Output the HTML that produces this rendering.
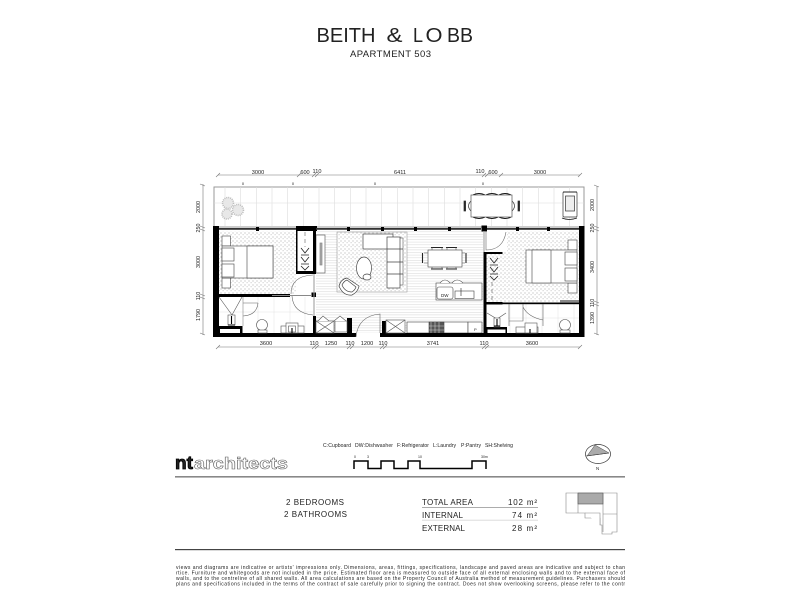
<!DOCTYPE html>
<html><head><meta charset="utf-8"><style>
html,body{margin:0;padding:0;background:#fff}
svg{display:block;filter:blur(.35px)}
text{font-family:"Liberation Sans",sans-serif;fill:#222}
</style></head><body>
<svg width="800" height="600" viewBox="0 0 800 600" xmlns="http://www.w3.org/2000/svg">
<defs>
<pattern id="dots" width="4" height="4" patternUnits="userSpaceOnUse"><rect x=".5" y=".5" width="1" height="1" fill="#a8a8a8"/><rect x="2.6" y="2.2" width="1" height="1" fill="#c0c0c0"/></pattern>
<pattern id="boards" width="4" height="2.6" patternUnits="userSpaceOnUse"><rect width="4" height=".6" fill="#dcdcdc"/></pattern>
<clipPath id="legal"><rect x="175" y="560" width="450" height="30"/></clipPath>
</defs>
<rect width="800" height="600" fill="#fff"/>

<g font-size="20" fill="#1a1a1a">
<text x="316.5" y="42" textLength="59" lengthAdjust="spacingAndGlyphs">BEITH</text>
<text x="386.5" y="42" textLength="16" lengthAdjust="spacingAndGlyphs">&amp;</text>
<text x="413" y="42" textLength="10" lengthAdjust="spacingAndGlyphs">L</text>
<text x="425.5" y="42" textLength="17" lengthAdjust="spacingAndGlyphs">O</text>
<text x="447" y="42" textLength="26" lengthAdjust="spacingAndGlyphs">BB</text>
</g>
<text x="350" y="57" font-size="9.5" textLength="81" lengthAdjust="spacing">APARTMENT 503</text>

<!-- Dimensions -->
<g stroke="#777" stroke-width=".6" fill="none">
<path d="M218 175H580M218 347H580M597 186V335M203 184V335"/>
<path d="M216 177l4-4M297 177l4-4M312 177l4-4M315 177l4-4M482 177l4-4M485 177l4-4M499 177l4-4M578 177l4-4"/>
<path d="M216 349l4-4M312 349l4-4M315 349l4-4M347 349l4-4M350 349l4-4M380 349l4-4M383 349l4-4M482 349l4-4M485 349l4-4M578 349l4-4"/>
<path d="M594 185l5 2M594 226l5 2M594 229l5 2M594 301l5 2M594 304l5 2M594 333l5 2"/>
<path d="M200 184l5 2M200 226l5 2M200 229l5 2M200 294l5 2M200 297l5 2M200 333l5 2"/>
</g>
<g font-size="5.6" text-anchor="middle" fill="#333">
<text x="258" y="174">3000</text><text x="305" y="174">600</text><text x="317" y="173">110</text><text x="400" y="174">6411</text><text x="480" y="173">110</text><text x="493" y="174">600</text><text x="540" y="174">3000</text>
<text x="243" y="185" font-size="4" fill="#888">0</text><text x="293" y="185" font-size="4" fill="#888">0</text><text x="375" y="185" font-size="4" fill="#888">0</text><text x="483" y="185" font-size="4" fill="#888">0</text>
<text x="266" y="345">3600</text><text x="314" y="345">110</text><text x="331" y="345">1250</text><text x="350" y="345">110</text><text x="367" y="345">1200</text><text x="383" y="345">110</text><text x="433" y="345">3741</text><text x="484" y="345">110</text><text x="532" y="345">3600</text>
</g>
<g font-size="5.4" text-anchor="middle" fill="#333">
<text transform="translate(200,207) rotate(-90)">2000</text><text transform="translate(200,228) rotate(-90)">250</text><text transform="translate(200,262) rotate(-90)">3000</text><text transform="translate(200,296) rotate(-90)">110</text><text transform="translate(200,315) rotate(-90)">1790</text>
<text transform="translate(594,205) rotate(-90)">2000</text><text transform="translate(594,228) rotate(-90)">250</text><text transform="translate(594,267) rotate(-90)">3400</text><text transform="translate(594,303) rotate(-90)">110</text><text transform="translate(594,318) rotate(-90)">1390</text>
</g>

<!-- Balcony -->
<rect x="214" y="187" width="370" height="40" fill="#fff" stroke="#999" stroke-width="1"/>
<g stroke="#ddd" stroke-width=".6">
<path d="M225 187V226M240.7 187V226M256.3 187V226M272 187V226M287.7 187V226M303.3 187V226M319 187V226M334.7 187V226M350.3 187V226M366 187V226M381.7 187V226M397.3 187V226M413 187V226M428.7 187V226M444.3 187V226M460 187V226M475.7 187V226M491.3 187V226M507 187V226M522.7 187V226M538.3 187V226M554 187V226M569.7 187V226"/>
<path d="M214 203H584"/>
</g>
<g fill="#e8e8e8" stroke="#bbb" stroke-width="1.5" stroke-dasharray="1 1">
<circle cx="228" cy="203" r="5.5"/><circle cx="238" cy="210" r="5.5"/><circle cx="227" cy="214" r="5"/>
</g>
<!-- outdoor dining -->
<g fill="#fff" stroke="#333" stroke-width=".7">
<path d="M473 195q6-3 12 0M486 195q6-3 12 0M499 195q6-3 12 0" fill="#fff" stroke="#111" stroke-width="1"/>
<path d="M473 217q6 3 12 0M486 217q6 3 12 0M499 217q6 3 12 0" fill="#fff" stroke="#111" stroke-width="1"/>
<path d="M471 201q-5 5 0 10M512 201q5 5 0 10" fill="#fff"/>
<rect x="471" y="195" width="41" height="22" stroke="#555"/>
<rect x="464" y="201" width="1.6" height="10" fill="#222"/><rect x="518" y="201" width="1.6" height="10" fill="#222"/>
<rect x="563" y="192" width="14" height="25" rx="1"/>
<rect x="565.5" y="196" width="9" height="15" fill="#eee"/>
<path d="M562 218q7 3 15 0M563 192h14" fill="none" stroke="#111"/>
</g>

<!-- Floors -->
<rect x="316" y="231" width="167" height="102" fill="url(#boards)"/>
<rect x="219" y="231" width="77" height="63" fill="url(#dots)"/>
<rect x="486" y="231" width="93" height="71" fill="url(#dots)"/>
<rect x="486" y="231" width="21" height="21" fill="#fff"/>
<rect x="337" y="232" width="70" height="60" fill="#fff" stroke="#999" stroke-width=".6"/>
<rect x="337" y="232" width="70" height="60" fill="url(#dots)"/>
<!-- bathroom tile lines -->
<g stroke="#e2e2e2" stroke-width=".5">
<path d="M258 297V333M274 297V333M290 297V333M305 297V333M219 312H313"/>
<path d="M510 304V333M526 304V333M542 304V333M558 304V333M574 304V333M508 318H579"/>
</g>

<!-- Left bed -->
<g fill="#fff" stroke="#444" stroke-width=".6">
<rect x="222" y="236" width="8.5" height="10"/><rect x="222" y="278" width="8.5" height="10"/>
<rect x="222" y="246" width="51" height="32"/><rect x="247" y="246" width="26" height="32"/>
<rect x="222" y="248" width="12" height="13"/><rect x="222" y="264" width="12" height="13"/>
</g>
<!-- Right bed -->
<g fill="#fff" stroke="#444" stroke-width=".6">
<rect x="568" y="240" width="9" height="10"/><rect x="568" y="283" width="9" height="10"/>
<rect x="526" y="250" width="51" height="33"/><rect x="532" y="250" width="19" height="33"/>
<rect x="565" y="252" width="12" height="13"/><rect x="565" y="268" width="12" height="13"/>
</g>

<!-- Sofa, ottoman, armchair -->
<g fill="#fff" stroke="#444" stroke-width=".7">
<rect x="363" y="234" width="30" height="15"/>
<path d="M400 238h3v47h-3" stroke="#777"/>
<rect x="387" y="237" width="13" height="51"/>
<path d="M387 249H403M387 262H403M387 274H403"/>
<ellipse cx="364" cy="268" rx="7.5" ry="11"/><ellipse cx="367" cy="277" rx="4" ry="3"/>
<path d="M339 286q2-7 8-8l12 8q-1 6-7 9q-9 1-13-9z"/>
<path d="M342 285q2-4 5-5l9 7q-1 3-4 5q-7 0-10-7z" fill="#fff"/>
<rect x="316" y="235" width="9" height="38" stroke="#666"/>
<rect x="320" y="243" width="2" height="22" fill="#aaa" stroke="#888"/>
</g>

<!-- Dining -->
<g fill="#fff" stroke="#444" stroke-width=".6">
<rect x="428" y="250" width="34" height="17"/>
<path d="M431 247.5h12M446 247.5h11M431 269h12M446 269h11M422.5 253v10M466 253v10" stroke-width="1.1" stroke="#222"/>
<path d="M424 253h4M424 263h4M462 253h3M462 263h3M432 247.5v2.5M442 247.5v2.5M447 247.5v2.5M456 247.5v2.5M432 267v2M442 267v2M447 267v2M456 267v2" stroke="#555"/>
<rect x="436" y="283" width="46" height="17"/>
<rect x="437" y="287" width="16" height="12" rx="2"/>
<rect x="455" y="291" width="19" height="7.5"/>
<path d="M461 288v8" stroke="#222"/>
<path d="M440 283q5-6 10 0M452 283q5-6 11 0"/>
<rect x="407" y="322" width="61" height="11"/>
<rect x="429" y="322" width="15" height="11" fill="#555"/>
<rect x="468" y="322" width="14" height="11"/>
</g>
<path d="M431 322v11M435 322v11M439 322v11M429 326h15M429 330h15" stroke="#ccc" stroke-width=".6"/>
<text x="441" y="297" font-size="4.5" fill="#333">DW</text>
<text x="474" y="331" font-size="4" fill="#333">P</text>

<!-- Wardrobes -->
<g stroke="#222" fill="none" stroke-width=".8">
<path d="M305 232V247" stroke="#888" stroke-dasharray="4 3"/>
<path d="M301 248l4 5l4-5M301 255h8M301 257l4 5l4-5M301 264h8M301 266l4 4l4-4"/>
<path d="M492 282V301" stroke="#888" stroke-dasharray="4 3"/>
<path d="M490 258l4 5l4-5M490 265h8M490 267l4 5l4-5M490 274h8M490 276l4 4l4-4"/>
</g>

<!-- Walls -->
<g fill="#000">
<rect x="213" y="226" width="6" height="111"/>
<rect x="213" y="333" width="143" height="4"/>
<rect x="380" y="333" width="204" height="4"/>
<rect x="579" y="226" width="5.5" height="111"/>
<rect x="296" y="226" width="21" height="5"/>
<rect x="313" y="226" width="3" height="48"/>
<rect x="296" y="271" width="20" height="3"/>
<rect x="296" y="231" width="1.5" height="40"/>
<rect x="219" y="294" width="71" height="3"/>
<rect x="311.5" y="292.5" width="4.5" height="4.5"/>
<rect x="313" y="316" width="3" height="18"/>
<rect x="347" y="318" width="5" height="16"/>
<rect x="382" y="321" width="4" height="13"/>
<rect x="481.5" y="225.5" width="5.5" height="6"/>
<rect x="483.5" y="252" width="3" height="81"/>
<rect x="483.5" y="252" width="19" height="2"/>
<rect x="483.5" y="302" width="19" height="2.5"/>
<rect x="502" y="302.5" width="77" height="1.7"/>
<rect x="219" y="326" width="23.5" height="8"/>
<rect x="486" y="327" width="21" height="7"/>
</g>
<rect x="220" y="329" width="20" height="4" fill="#fff"/>
<rect x="487.5" y="329.5" width="18" height="3.5" fill="#fff"/>
<rect x="560" y="300" width="19" height="2.7" fill="#888"/>
<rect x="483.5" y="231" width="1" height="21" fill="#999"/>
<rect x="313.5" y="274" width="1" height="42" fill="#999"/>
<!-- windows -->
<g fill="#333">
<rect x="219" y="228" width="77" height="1.8"/><rect x="316" y="228" width="165" height="1.8"/><rect x="487" y="228" width="92" height="1.8"/>
</g>
<g fill="#000"><rect x="256" y="227" width="3" height="4"/><rect x="347" y="227" width="3" height="4"/><rect x="381" y="227" width="3" height="4"/><rect x="414" y="227" width="3" height="4"/><rect x="448" y="227" width="3" height="4"/><rect x="516" y="227" width="3" height="4"/><rect x="547" y="227" width="3" height="4"/></g>
<rect x="272" y="295" width="40" height="1" fill="#888"/>

<!-- Doors -->
<g fill="none" stroke="#666" stroke-width=".6">
<path d="M291 294q0-18 22-19M292 296q1 17 21 19"/>
<path d="M356 337q2-21 24-23V333"/>
<path d="M486 232v18q17 0 20-18"/>
<path d="M243 303h15M258 303q-1 12-15 13"/>
<path d="M243 297V326" stroke="#888"/>
<path d="M509 304V326M509 321h14V304M523 307q5 10 20 13M543 304V326"/>
</g>

<!-- Bath fixtures -->
<g fill="#fff" stroke="#555" stroke-width=".6">
<path d="M219 297l13 18l10-18" fill="none"/>
<rect x="228" y="315" width="7" height="10"/>
<path d="M487 313l10 6l9-6" fill="none"/>
<rect x="494" y="318" width="6" height="9"/>
<circle cx="262" cy="325" r="5.5"/><rect x="258" y="330" width="9" height="3"/>
<rect x="281" y="326" width="23" height="7"/><rect x="286" y="323" width="12" height="10"/><rect x="288.5" y="326" width="7" height="6"/>
<circle cx="565" cy="325" r="5.5"/><rect x="560" y="330" width="10" height="3"/>
<rect x="516" y="327" width="22" height="6"/><rect x="525" y="323" width="12" height="10"/>
<rect x="316" y="321" width="18" height="12"/><path d="M316 321l18 12M334 321l-18 12M318 321l5-5l6 5"/>
<rect x="335" y="321" width="12" height="11"/><path d="M334 321l6-5l6 5"/>
<rect x="386" y="320" width="19" height="13"/><path d="M386 320l19 13M405 320l-19 13"/>
</g>
<path d="M231.5 316v8M228 325h7M497 319v7M494 326h6M530 329v4M292 328v5" stroke="#000" stroke-width="1.1"/>

<!-- Legend -->
<g font-size="5.1" fill="#333">
<text x="323" y="447" textLength="28" lengthAdjust="spacing">C:Cupboard</text>
<text x="355" y="447" textLength="38" lengthAdjust="spacing">DW:Dishwasher</text>
<text x="397" y="447" textLength="32" lengthAdjust="spacing">F:Refrigerator</text>
<text x="433" y="447" textLength="23" lengthAdjust="spacing">L:Laundry</text>
<text x="461" y="447" textLength="20" lengthAdjust="spacing">P:Pantry</text>
<text x="485" y="447" textLength="28" lengthAdjust="spacing">SH:Shelving</text>
</g>
<text x="175" y="469" font-size="18" font-weight="bold" textLength="18" lengthAdjust="spacingAndGlyphs" fill="#000" stroke="#000" stroke-width=".8">nt</text>
<text x="194" y="469" font-size="17" font-weight="bold" textLength="94" lengthAdjust="spacingAndGlyphs" style="fill:#fff" stroke="#666" stroke-width=".6">architects</text>
<path d="M354 469V461H368V468.5H381V461H394V468.5H408V461H420V468.5H472V461H486V469" fill="none" stroke="#000" stroke-width="1.5"/>
<g font-size="3.5" fill="#666"><text x="354" y="458">0</text><text x="367" y="458">3</text><text x="418" y="458">10</text><text x="481" y="458">30m</text></g>
<ellipse cx="598" cy="454" rx="12.5" ry="9.5" fill="#fff" stroke="#333" stroke-width=".7"/>
<path d="M595 445L609 453L587 456Z" fill="#aaa" stroke="#444" stroke-width=".5"/>
<path d="M586 456L609 453" stroke="#333" stroke-width=".5"/>
<text x="596" y="470" font-size="4.5" fill="#444">N</text>
<rect x="175" y="476" width="450" height="1.6" fill="#888"/>

<text x="286" y="505" font-size="8" textLength="58" lengthAdjust="spacing" fill="#333">2 BEDROOMS</text>
<text x="284" y="517" font-size="8" textLength="63" lengthAdjust="spacing" fill="#333">2 BATHROOMS</text>
<g font-size="8" fill="#333">
<text x="422" y="505" textLength="51" lengthAdjust="spacing">TOTAL AREA</text>
<text x="422" y="518" textLength="41" lengthAdjust="spacing">INTERNAL</text>
<text x="422" y="531" textLength="43" lengthAdjust="spacing">EXTERNAL</text>
<text x="508" y="505" textLength="29" lengthAdjust="spacing">102 m²</text>
<text x="512" y="518" textLength="25" lengthAdjust="spacing">74 m²</text>
<text x="512" y="531" textLength="25" lengthAdjust="spacing">28 m²</text>
</g>
<rect x="422" y="507" width="116" height=".7" fill="#888"/>
<rect x="422" y="519.8" width="116" height=".7" fill="#ccc"/>

<!-- Key plan -->
<g fill="#fff" stroke="#888" stroke-width=".6">
<path d="M566 493H617V532H612V534H602V525H600V518H585V513H566Z"/>
<path d="M578 493V513M603 493V532M603 514H617M585 513H600V525"/>
</g>
<rect x="578" y="493" width="25" height="11" fill="#aaa" stroke="#555" stroke-width=".6"/>

<rect x="175" y="549" width="450" height="1.2" fill="#444"/>

<g clip-path="url(#legal)" font-size="5" fill="#333">
<text x="176" y="569" textLength="449" lengthAdjust="spacing">views and diagrams are indicative or artists' impressions only. Dimensions, areas, fittings, specifications, landscape and paved areas are indicative and subject to chan</text>
<text x="176" y="574.5" textLength="449" lengthAdjust="spacing">rtice. Furniture and whitegoods are not included in the price. Estimated floor area is measured to outside face of all external enclosing walls and to the external face of</text>
<text x="176" y="580" textLength="449" lengthAdjust="spacing">walls, and to the centreline of all shared walls. All area calculations are based on the Property Council of Australia method of measurement guidelines. Purchasers should</text>
<text x="176" y="585.5" textLength="449" lengthAdjust="spacing">plans and specifications included in the terms of the contract of sale carefully prior to signing the contract. Does not show overlooking screens, please refer to the contr</text>
</g>
</svg>
</body></html>
